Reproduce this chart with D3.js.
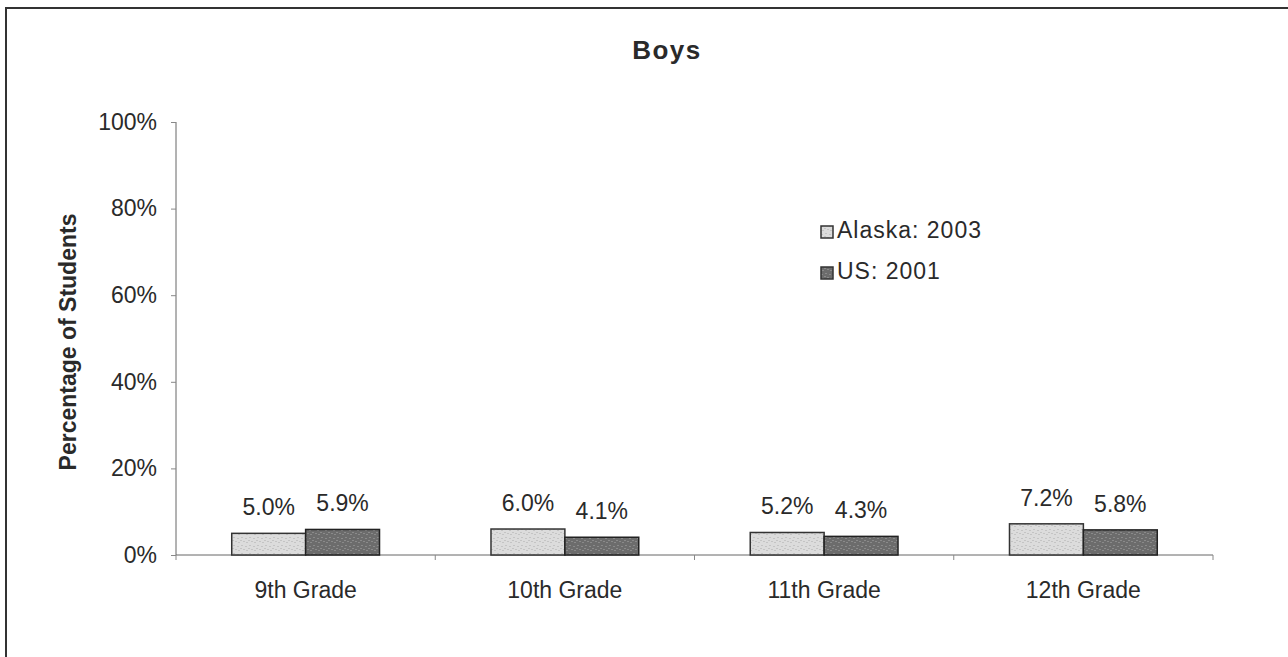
<!DOCTYPE html>
<html><head><meta charset="utf-8">
<script src="https://cdn.jsdelivr.net/npm/d3@7"></script>
<style>
body{margin:0;background:#fff;}
text{font-family:"Liberation Sans",Arial,sans-serif;fill:#2a2a2a;}
</style></head>
<body><svg id="c" width="1288" height="657"></svg>
<script>
const categories = ["9th Grade","10th Grade","11th Grade","12th Grade"];
const seriesNames = ["Alaska: 2003","US: 2001"];
const alaska2003 = [5.0, 6.0, 5.2, 7.2];
const us2001 = [5.9, 4.1, 4.3, 5.8];
const yTicks = [0,20,40,60,80,100];
const colors = ["#dcdcdc","#6c6c6c"];
const specks = ["#c4c4c4","#8a8a8a"];
const strokes = ["#333","#222"];

const svg = d3.select("#c");
const defs = svg.append("defs");
colors.forEach((c,i)=>{
  const p = defs.append("pattern").attr("id","pat"+i).attr("patternUnits","userSpaceOnUse").attr("width",8).attr("height",8);
  p.append("rect").attr("width",8).attr("height",8).attr("fill",c);
  [[1,1],[5,2],[3,5],[6,6],[0,4]].forEach(([a,b])=>p.append("rect").attr("x",a).attr("y",b).attr("width",2).attr("height",1).attr("fill",specks[i]));
});

// frame
svg.append("line").attr("x1",5).attr("x2",1288).attr("y1",8).attr("y2",8).attr("stroke","#333").attr("stroke-width",2);
svg.append("line").attr("x1",6).attr("x2",6).attr("y1",8).attr("y2",657).attr("stroke","#333").attr("stroke-width",2);

const x = d3.scaleBand().domain(categories).range([176,1213]).paddingInner(0.43).paddingOuter(0.215);
const xs = d3.scaleBand().domain(seriesNames).range([0,x.bandwidth()]);
const y = d3.scaleLinear().domain([0,100]).range([555,122]);

// y axis
const ya = svg.append("g").attr("transform","translate(176,0)")
  .call(d3.axisLeft(y).tickValues(yTicks).tickFormat(d=>d+"%").tickSize(5).tickPadding(14));
ya.select(".domain").attr("stroke","#666").attr("d","M0,"+y(100)+"V"+y(0));
ya.selectAll(".tick line").attr("stroke","#888");
ya.selectAll("text").style("font-size","23px").attr("fill","#2a2a2a").style("font-family","Liberation Sans, Arial, sans-serif");

// x axis line with ticks at boundaries
const step = x.step();
const bounds = d3.range(categories.length+1).map(i=>176+i*step);
svg.append("line").attr("x1",176).attr("x2",1213).attr("y1",y(0)).attr("y2",y(0)).attr("stroke","#666");
svg.selectAll(".xt").data(bounds).join("line").attr("x1",d=>d).attr("x2",d=>d).attr("y1",y(0)).attr("y2",y(0)+5).attr("stroke","#888");
svg.selectAll(".xl").data(categories).join("text")
  .attr("x",d=>x(d)+x.bandwidth()/2).attr("y",598).attr("text-anchor","middle").style("font-size","23px").text(d=>d);

// bars
const series = [alaska2003, us2001];
series.forEach((vals,si)=>{
  const g = svg.append("g");
  g.selectAll("rect").data(categories).join("rect")
    .attr("x",d=>x(d)+xs(seriesNames[si]))
    .attr("y",(d,i)=>y(vals[i]))
    .attr("width",xs.bandwidth())
    .attr("height",(d,i)=>y(0)-y(vals[i]))
    .attr("fill","url(#pat"+si+")").attr("stroke",strokes[si]).attr("stroke-width",1.5);
  g.selectAll("text").data(categories).join("text")
    .attr("x",d=>x(d)+xs(seriesNames[si])+xs.bandwidth()/2)
    .attr("y",(d,i)=>y(vals[i])-18)
    .attr("text-anchor","middle").style("font-size","23px")
    .text((d,i)=>vals[i].toFixed(1)+"%");
});

// title
svg.append("text").attr("x",667).attr("y",59).attr("text-anchor","middle").style("font-size","26px").style("font-weight","bold").style("letter-spacing","1.5px").attr("fill","#111").text("Boys");
// y title
svg.append("text").attr("transform","translate(76,342) rotate(-90)").attr("text-anchor","middle").style("font-size","23px").style("font-weight","bold").text("Percentage of Students");

// legend
const leg = svg.append("g");
seriesNames.forEach((n,i)=>{
  leg.append("rect").attr("x",821).attr("y",226+i*41).attr("width",12).attr("height",12).attr("fill","url(#pat"+i+")").attr("stroke","#333").attr("stroke-width",1.5);
  leg.append("text").attr("x",837).attr("y",238+i*41).style("font-size","23px").style("letter-spacing","1px").text(n);
});
</script></body></html>
